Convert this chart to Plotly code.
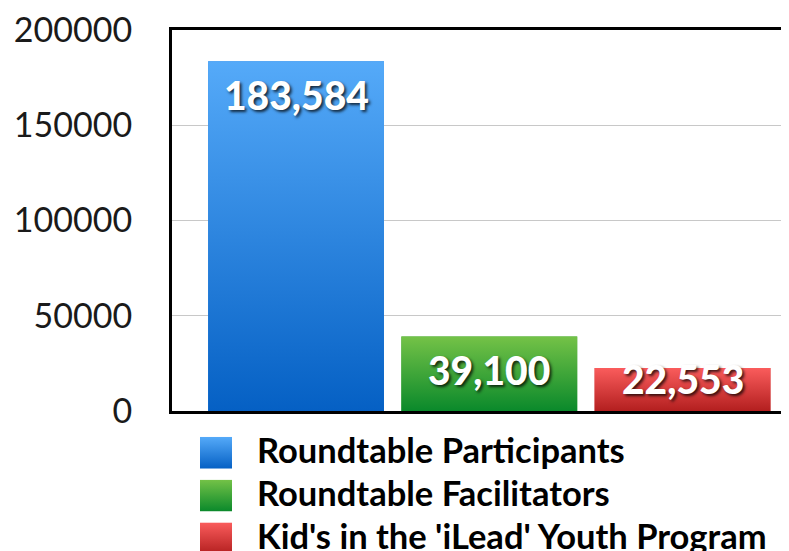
import plotly.graph_objects as go

# ---- data ----
categories = ["Roundtable Participants", "Roundtable Facilitators", "Kid's in the 'iLead' Youth Program"]
values = [183584, 39100, 22553]
colors_top = ["#55AAF9", "#74C247", "#FA5C5C"]
colors_bottom = ["#0560C4", "#0A892B", "#B31F1F"]
colors_mid = ["#2B84E0", "#3DA538", "#D83C3C"]
y_ticks = [0, 50000, 100000, 150000, 200000]

# ---- layout constants (page has an 8px body margin) ----
OFF = 8
W, H = 789 - OFF, 551 - OFF
ML, MT, MR, MB = 172 - OFF, 28 - OFF, 0, 140
plot_h = H - MT - MB
plot_w = W - ML - MR
y_max = 200000
units_per_px = y_max / plot_h
x_range = [-0.642, 2.551]
bar_w = 0.91

fig = go.Figure()

xs = list(range(len(categories)))

for i, (cat, v) in enumerate(zip(categories, values)):
    fig.add_trace(go.Bar(
        x=[xs[i]], y=[v], width=bar_w, name=cat,
        marker=dict(color=colors_mid[i], line=dict(width=0)),
        showlegend=False, hoverinfo="skip",
    ))

# vertical gradient overlay for each bar (derived from the same data)
for i, v in enumerate(values):
    x0, x1 = xs[i] - bar_w / 2, xs[i] + bar_w / 2
    fig.add_trace(go.Scatter(
        x=[x0, x1, x1, x0, x0], y=[0, 0, v, v, 0],
        mode="lines", line=dict(width=0), fill="toself",
        fillgradient=dict(type="vertical",
                          colorscale=[[0, colors_bottom[i]], [1, colors_top[i]]]),
        showlegend=False, hoverinfo="skip",
    ))

# value labels
for i, v in enumerate(values):
    y_lab = max(v - 34 * units_per_px, 32 * units_per_px)
    fig.add_annotation(
        x=xs[i], y=y_lab, xref="x", yref="y", text=f"{v:,}",
        showarrow=False, yanchor="middle", xanchor="center",
        font=dict(family="Lato", size=39, color="white", weight=900,
                  shadow="2px 2px 3px rgba(0,0,0,0.75)"),
    )

# custom legend
def grad_svg(top, bottom):
    svg = ("<svg xmlns='http://www.w3.org/2000/svg' width='32' height='32'>"
           "<defs><linearGradient id='g' x1='0' y1='0' x2='0' y2='1'>"
           f"<stop offset='0' stop-color='{top}'/><stop offset='1' stop-color='{bottom}'/>"
           "</linearGradient></defs><rect width='32' height='32' fill='url(#g)'/></svg>")
    return "data:image/svg+xml;utf8," + svg.replace("#", "%23").replace("<", "%3C").replace(">", "%3E").replace("'", "%27").replace(" ", "%20")

row_top0 = 437 - OFF
row_step = 43
for i, cat in enumerate(categories):
    top_px = row_top0 + i * row_step
    fig.add_layout_image(
        source=grad_svg(colors_top[i], colors_bottom[i]),
        xref="paper", yref="paper",
        x=(200 - OFF - ML) / plot_w, y=(H - MB - top_px) / plot_h,
        sizex=32 / plot_w, sizey=32 / plot_h,
        xanchor="left", yanchor="top", sizing="stretch", layer="above",
    )
    fig.add_annotation(
        xref="paper", yref="paper",
        x=(255 - OFF - ML) / plot_w, y=(H - MB - (top_px + 13)) / plot_h,
        text=cat, showarrow=False, xanchor="left", yanchor="middle",
        font=dict(family="Lato", size=34.5, color="black", weight="bold"),
    )

fig.update_layout(
    width=W, height=H,
    margin=dict(l=ML, r=MR, t=MT, b=MB, pad=0),
    paper_bgcolor="white", plot_bgcolor="white",
    barmode="overlay",
    showlegend=False,
    xaxis=dict(range=x_range, showticklabels=False, showgrid=False, zeroline=False,
               showline=True, linecolor="black", linewidth=3, mirror=True, ticks=""),
    yaxis=dict(range=[0, y_max], tickvals=y_ticks, ticktext=[str(t) for t in y_ticks],
               showgrid=True, gridcolor="#c8c8c8", gridwidth=1, zeroline=False,
               showline=True, linecolor="black", linewidth=3, mirror=False,
               ticks="", ticklabelstandoff=30, ticklabeloverflow="allow",
               tickfont=dict(family="Lato", size=34, color="#1a1a1a")),
)

fig.write_html("out.html")
